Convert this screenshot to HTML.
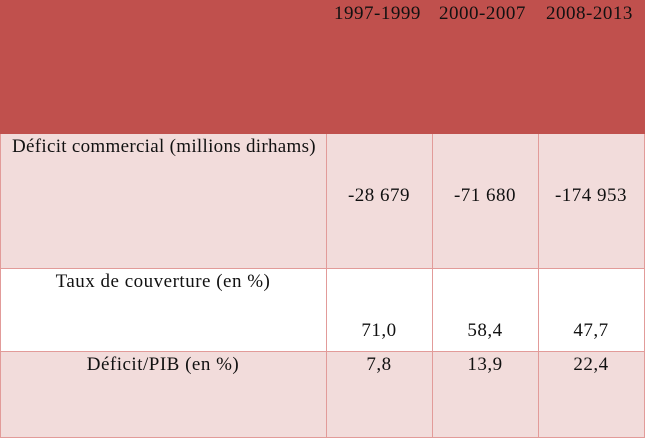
<!DOCTYPE html>
<html><head><meta charset="utf-8"><style>
body{margin:0;width:645px;height:438px;overflow:hidden;background:#fff;font-family:"Liberation Serif",serif;font-size:19px;color:#111;letter-spacing:0.5px}
.a{position:absolute}
.t{position:absolute;white-space:nowrap;line-height:20px}
.c{text-align:center}
</style></head><body>
<div class="a" style="left:0;top:0;width:645px;height:134px;background:#C0504D"></div>
<div class="a" style="left:0;top:134px;width:645px;height:135px;background:#F2DCDB"></div>
<div class="a" style="left:0;top:352px;width:645px;height:86px;background:#F2DCDB"></div>
<div class="a" style="left:0;top:268px;width:645px;height:1px;background:#E29B99"></div>
<div class="a" style="left:0;top:351px;width:645px;height:1px;background:#E29B99"></div>
<div class="a" style="left:0;top:437px;width:645px;height:1px;background:#E29B99"></div>
<div class="a" style="left:326px;top:134px;width:1px;height:304px;background:#E29B99"></div>
<div class="a" style="left:432px;top:134px;width:1px;height:304px;background:#E29B99"></div>
<div class="a" style="left:538px;top:134px;width:1px;height:304px;background:#E29B99"></div>
<div class="a" style="left:644px;top:134px;width:1px;height:304px;background:#E29B99"></div>
<div class="a" style="left:0;top:134px;width:1px;height:304px;background:#E29B99"></div>

<div class="t" style="left:334px;top:4px">1997-1999</div>
<div class="t" style="left:439px;top:4px">2000-2007</div>
<div class="t" style="left:546px;top:4px">2008-2013</div>

<div class="t" style="left:12px;top:137px;letter-spacing:0.3px">Déficit commercial (millions dirhams)</div>
<div class="t c" style="left:326px;width:106px;top:186px">-28 679</div>
<div class="t c" style="left:432px;width:106px;top:186px">-71 680</div>
<div class="t c" style="left:538px;width:106px;top:186px">-174 953</div>

<div class="t c" style="left:0;width:326px;top:272px">Taux de couverture (en %)</div>
<div class="t c" style="left:326px;width:106px;top:321px">71,0</div>
<div class="t c" style="left:432px;width:106px;top:321px">58,4</div>
<div class="t c" style="left:538px;width:106px;top:321px">47,7</div>

<div class="t c" style="left:0;width:326px;top:355px">Déficit/PIB (en %)</div>
<div class="t c" style="left:326px;width:106px;top:355px">7,8</div>
<div class="t c" style="left:432px;width:106px;top:355px">13,9</div>
<div class="t c" style="left:538px;width:106px;top:355px">22,4</div>
</body></html>
